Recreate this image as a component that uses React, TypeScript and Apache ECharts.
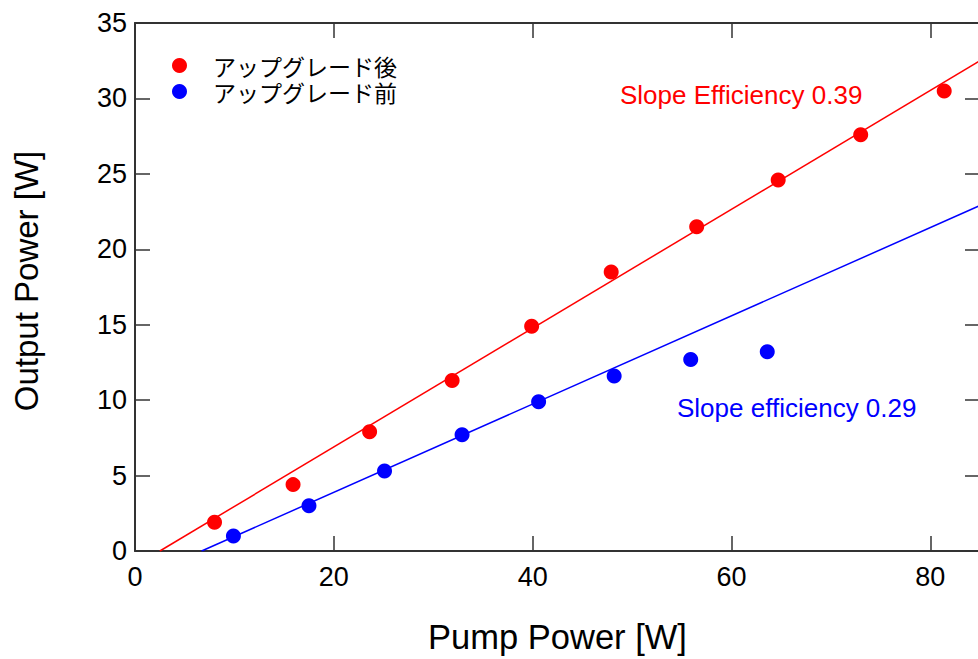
import React, { useEffect, useRef } from "react";
import * as echarts from "echarts";

// Measured data (Pump Power [W], Output Power [W])
const afterPump = [8.0, 15.9, 23.6, 31.9, 39.9, 47.9, 56.5, 64.7, 73.0, 81.4];
const afterOut = [1.9, 4.4, 7.9, 11.3, 14.9, 18.5, 21.5, 24.6, 27.6, 30.5];
const beforePump = [9.9, 17.5, 25.1, 32.9, 40.6, 48.2, 55.9, 63.6];
const beforeOut = [1.0, 3.0, 5.3, 7.7, 9.9, 11.6, 12.7, 13.2];

// Linear fit lines (endpoints in data units)
const afterFitX = [2.5, 85];
const afterFitY = [0, 32.5];
const beforeFitX = [6.7, 85];
const beforeFitY = [0, 22.9];

const seriesNames = ["アップグレード後", "アップグレード前"];
const annotations = ["Slope Efficiency 0.39", "Slope efficiency 0.29"];

const zip = (xs: number[], ys: number[]) => xs.map((x, i) => [x, ys[i]]);

const FONT = "'Liberation Sans', Helvetica, Arial, sans-serif";
const AXIS_COLOR = "#333333";

const mkLine = () => ({ show: true, onZero: false, lineStyle: { color: AXIS_COLOR, width: 2 } });
const mkTick = () => ({ show: true, inside: true, length: 15, lineStyle: { color: AXIS_COLOR, width: 1.5 } });

export default function App() {
  const ref = useRef<HTMLDivElement>(null);

  useEffect(() => {
    if (!ref.current) return;
    const chart = echarts.init(ref.current, undefined, { renderer: "svg" });

    chart.setOption({
      animation: false,
      backgroundColor: "#ffffff",
      grid: { left: 135, top: 23, width: 845, height: 528 },
      legend: {
        data: seriesNames,
        orient: "vertical",
        left: 167,
        top: 49,
        itemWidth: 15,
        itemHeight: 15,
        itemGap: 3,
        icon: "circle",
        textStyle: {
          fontSize: 23,
          lineHeight: 23,
          color: "#000",
          fontFamily: "'Noto Sans CJK JP', sans-serif",
          padding: [0, 0, 0, 21],
        },
      },
      xAxis: [
        {
          type: "value",
          position: "bottom",
          min: 0,
          max: 85,
          interval: 20,
          name: "Pump Power [W]",
          nameLocation: "middle",
          nameGap: 68,
          nameTextStyle: { fontSize: 34.5, color: "#000", fontFamily: FONT },
          axisLine: mkLine(),
          axisTick: mkTick(),
          splitLine: { show: false },
          axisLabel: {
            fontSize: 27,
            color: "#000",
            fontFamily: FONT,
            margin: 12,
            showMaxLabel: false,
          },
        },
        {
          type: "value",
          position: "top",
          min: 0,
          max: 85,
          interval: 20,
          axisLine: mkLine(),
          axisTick: mkTick(),
          splitLine: { show: false },
          axisLabel: { show: false },
        },
      ],
      yAxis: [
        {
          type: "value",
          position: "left",
          min: 0,
          max: 35,
          interval: 5,
          name: "Output Power [W]",
          nameLocation: "middle",
          nameRotate: 90,
          nameGap: 92,
          nameTextStyle: {
            fontSize: 33,
            color: "#000",
            fontFamily: FONT,
            padding: [0, 0, 0, 12],
          },
          axisLine: mkLine(),
          axisTick: mkTick(),
          splitLine: { show: false },
          axisLabel: { fontSize: 27, color: "#000", fontFamily: FONT, margin: 8 },
        },
        {
          type: "value",
          position: "right",
          min: 0,
          max: 35,
          interval: 5,
          axisLine: mkLine(),
          axisTick: mkTick(),
          splitLine: { show: false },
          axisLabel: { show: false },
        },
      ],
      series: [
        {
          name: seriesNames[0],
          type: "scatter",
          data: zip(afterPump, afterOut),
          symbolSize: 15,
          itemStyle: { color: "#ff0000", opacity: 1 },
          z: 3,
        },
        {
          name: seriesNames[1],
          type: "scatter",
          data: zip(beforePump, beforeOut),
          symbolSize: 15,
          itemStyle: { color: "#0000ff", opacity: 1 },
          z: 3,
        },
        {
          name: "fitAfter",
          type: "line",
          data: zip(afterFitX, afterFitY),
          showSymbol: false,
          symbol: "none",
          lineStyle: { color: "#ff0000", width: 1.5 },
          silent: true,
          z: 2,
        },
        {
          name: "fitBefore",
          type: "line",
          data: zip(beforeFitX, beforeFitY),
          showSymbol: false,
          symbol: "none",
          lineStyle: { color: "#0000ff", width: 1.5 },
          silent: true,
          z: 2,
        },
      ],
      graphic: [
        {
          type: "text",
          left: 620,
          top: 82,
          style: { text: annotations[0], fill: "#ff0000", fontSize: 26, fontFamily: FONT },
        },
        {
          type: "text",
          left: 677,
          top: 395,
          style: { text: annotations[1], fill: "#0000ff", fontSize: 26, fontFamily: FONT },
        },
      ],
    });

    return () => chart.dispose();
  }, []);

  return (
    <div
      style={{
        position: "fixed",
        left: 0,
        top: 0,
        width: 978,
        height: 659,
        overflow: "hidden",
        background: "#fff",
      }}
    >
      <div ref={ref} style={{ width: 990, height: 659 }} />
    </div>
  );
}
